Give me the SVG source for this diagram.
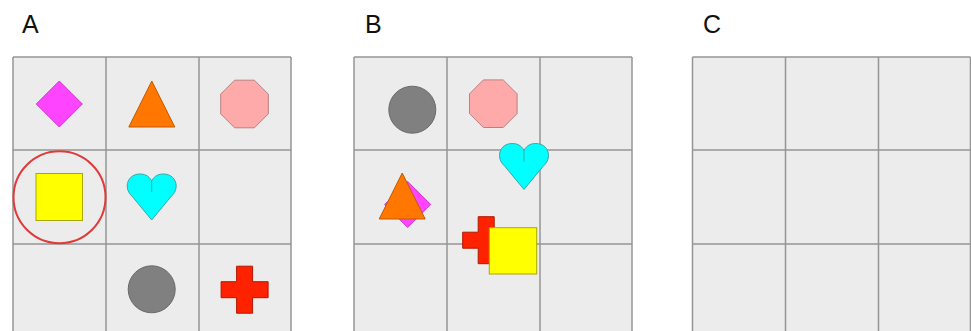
<svg xmlns="http://www.w3.org/2000/svg" xmlns:xlink="http://www.w3.org/1999/xlink" width="971" height="331" viewBox="0 0 971 331">
<style>
.lbl{font-family:"Liberation Sans",Arial,sans-serif;font-size:25px;fill:#111}
.cell{fill:#ececec;stroke:none}
.gl{stroke:#959595;stroke-width:1.5;fill:none}
.dia{fill:#ff44ff;stroke:#cc33cc;stroke-width:1}
.tri{fill:#ff7700;stroke:#c25a00;stroke-width:1}
.oct{fill:#ffaaaa;stroke:#b88282;stroke-width:1}
.sq{fill:#ffff00;stroke:#a8a800;stroke-width:1}
.hrt{fill:#00ffff;stroke:#3aa8a8;stroke-width:1}
.gry{fill:#808080;stroke:#6a6a6a;stroke-width:1}
.crs{fill:#ff2200;stroke:#b01800;stroke-width:1}
.ring{fill:none;stroke:#e03a3a;stroke-width:2}
</style>
<defs>
<polygon id="diamond" points="0,-23 23,0 0,23 -23,0"/>
<polygon id="triangle" points="0,-23 23,23 -23,23"/>
<polygon id="octagon" points="-9.9,-23.8 9.9,-23.8 23.8,-9.9 23.8,9.9 9.9,23.8 -9.9,23.8 -23.8,9.9 -23.8,-9.9"/>
<path id="heart" d="M0 7 C-3 1,-8 0,-12 0 C-19 0,-24.5 5,-24.5 12 C-24.5 17,-22 20,-19 23 L0 46 L19 23 C22 20,24.5 17,24.5 12 C24.5 5,19 0,12 0 C8 0,3 1,0 7 Z"/>
<polygon id="cross" points="-8,-23.5 8,-23.5 8,-8 23.5,-8 23.5,8 8,8 8,23.5 -8,23.5 -8,8 -23.5,8 -23.5,-8 -8,-8"/>
<g id="grid">
<rect class="cell" x="0" y="0" width="278" height="285"/>
<path class="gl" d="M0 0H278M0 93H278M0 187H278M0 0V285M93 0V285M186 0V285M278 0V285"/>
</g>
</defs>

<g id="panel-A">
<text class="lbl" x="22" y="33">A</text>
<use xlink:href="#grid" x="13" y="57"/>
<g id="A-diamond"><use xlink:href="#diamond" class="dia" x="59.3" y="104"/></g>
<g id="A-triangle"><use xlink:href="#triangle" class="tri" x="151.8" y="104"/></g>
<g id="A-octagon"><use xlink:href="#octagon" class="oct" x="244.5" y="104"/></g>
<g id="A-square"><rect class="sq" x="36" y="173.5" width="46.5" height="47"/></g>
<g id="A-ring"><circle class="ring" cx="59.5" cy="197.3" r="46"/></g>
<g id="A-heart"><use xlink:href="#heart" class="hrt" x="151.7" y="174"/><path d="M151.7 181V192" stroke="#3aa8a8" stroke-width="1"/></g>
<g id="A-circle"><circle class="gry" cx="151.7" cy="289.3" r="23.5"/></g>
<g id="A-cross"><use xlink:href="#cross" class="crs" x="244.6" y="289.7"/></g>
</g>

<g id="panel-B">
<text class="lbl" x="365" y="33">B</text>
<use xlink:href="#grid" x="354" y="57"/>
<g id="B-circle"><circle class="gry" cx="412.3" cy="109.7" r="23.5"/></g>
<g id="B-octagon"><use xlink:href="#octagon" class="oct" x="493.3" y="103.7"/></g>
<g id="B-heart"><use xlink:href="#heart" class="hrt" x="524" y="143.5"/><path d="M524 150.5V161.5" stroke="#3aa8a8" stroke-width="1"/></g>
<g id="B-diamond"><use xlink:href="#diamond" class="dia" x="407.7" y="204.5"/></g>
<g id="B-triangle"><use xlink:href="#triangle" class="tri" x="402.2" y="196"/></g>
<g id="B-cross"><use xlink:href="#cross" class="crs" x="486.2" y="240.2"/></g>
<g id="B-square"><rect class="sq" x="489.3" y="227.7" width="47.4" height="46.3"/></g>
</g>

<g id="panel-C">
<text class="lbl" x="703" y="33">C</text>
<use xlink:href="#grid" x="692.5" y="57"/>
</g>

<g id="connectors"/>
</svg>
